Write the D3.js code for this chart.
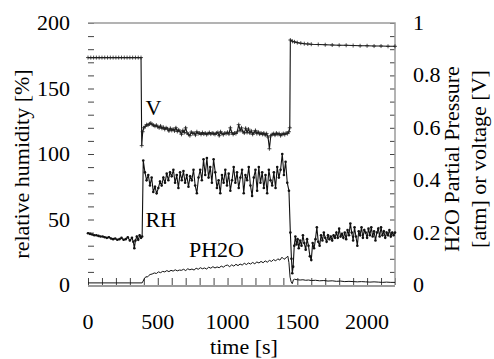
<!DOCTYPE html>
<html>
<head>
<meta charset="utf-8">
<script src="https://cdn.jsdelivr.net/npm/d3@7"></script>
<style>
    body { margin: 0; background: #fff; }
    svg text { font-family: "Liberation Serif", "Times New Roman", Times, serif; fill: #000; }
</style>
</head>
<body>
<div id="chart"></div>
<script>
// time axis ticks / labels
const xTickLabels = [0, 500, 1000, 1500, 2000];
const yLeftLabels = [0, 50, 100, 150, 200];
const yRightLabels = ["0", "0.2", "0.4", "0.6", "0.8", "1"];

// relative humidity [%]
const rhTime = [0, 15, 30, 45, 60, 75, 90, 105, 120, 135, 150, 165, 180, 195, 210, 225, 240, 255, 270, 285, 300, 315, 325, 332, 340, 350, 360, 370, 380, 388,
    396, 408, 420, 432, 444, 456, 468, 480, 492, 504, 516, 528, 540, 552, 564, 576, 588, 600, 612, 624, 636, 648, 660, 672, 684, 696, 708, 720, 732, 744, 756, 768, 780, 792, 804, 816, 828, 840, 852, 864, 876, 888, 900, 912, 924, 936, 948, 960, 972, 984, 996,
    1008, 1020, 1032, 1044, 1056, 1068, 1080, 1092, 1104, 1116, 1128, 1140, 1152, 1164, 1176, 1188, 1200, 1212, 1224, 1236, 1248, 1260, 1272, 1284, 1296, 1308, 1320, 1332, 1344, 1356, 1368, 1380, 1392, 1404, 1416, 1428, 1440,
    1450, 1458, 1464, 1470, 1478, 1486, 1494, 1502, 1510, 1520, 1530, 1540, 1550, 1560, 1570, 1580, 1590, 1600, 1610, 1620, 1630, 1640, 1650, 1660, 1670, 1680, 1690, 1700, 1710, 1720, 1730, 1740, 1750, 1760, 1770, 1780, 1790, 1800,
    1810, 1820, 1830, 1840, 1850, 1860, 1870, 1880, 1890, 1900, 1910, 1920, 1930, 1940, 1950, 1960, 1970, 1980, 1990, 2000, 2010, 2020, 2030, 2040, 2050, 2060, 2070, 2080, 2090, 2100, 2110, 2120, 2130, 2140, 2150, 2160, 2170, 2180, 2190, 2200];
const rhValues = [39.5, 39, 38.5, 38, 38, 37.5, 37, 37, 36.5, 36, 36.5, 35.5, 35, 35.5, 34.5, 35, 36, 34.5, 35, 36.5, 34, 36, 33, 28, 34, 37, 34.5, 38, 36, 37,
    95, 86, 80, 84, 76, 82, 71, 75, 70, 74, 79, 76, 82, 78, 85, 80, 86, 83, 88, 78, 84, 74, 86, 80, 87, 78, 84, 75, 83, 80, 88, 76, 70, 82, 88, 80, 96, 84, 97, 82, 90, 78, 96, 86, 74, 80, 70, 84, 78, 88, 76,
    85, 72, 80, 90, 78, 86, 74, 82, 88, 70, 84, 80, 90, 76, 68, 82, 88, 72, 90, 78, 86, 74, 84, 70, 88, 80, 76, 86, 74, 90, 82, 88, 100, 84, 94, 78, 72,
    40, 20, 9, 14, 30, 37, 31, 35, 28, 34, 30, 38, 32, 27, 35, 30, 22, 19, 32, 28, 35, 44, 33, 30, 38, 34, 40, 36, 33, 38, 35, 37, 34, 38, 36, 40, 36, 43,
    37, 39, 36, 40, 35, 42, 38, 47, 40, 34, 44, 37, 30, 41, 38, 44, 36, 42, 40, 36, 43, 38, 44, 37, 41, 34, 40, 43, 37, 44, 38, 41, 36, 40, 38, 42, 37, 40, 38, 40];

// sensor voltage [V]
const vTime = [0, 20, 40, 60, 80, 100, 120, 140, 160, 180, 200, 220, 240, 260, 280, 300, 320, 340, 360, 380,
    385, 392, 400, 410, 420, 430, 440, 450, 460, 470, 480, 490, 500, 510, 520, 530, 540, 550, 560, 570, 580, 590, 600, 610, 620, 630, 640, 650, 660, 670, 680, 690, 700,
    710, 720, 730, 740, 750, 760, 770, 780, 790, 800, 810, 820, 830, 840, 850, 860, 870, 880, 890, 900, 910, 920, 930, 940, 950, 960, 970, 980, 990, 1000,
    1010, 1020, 1030, 1040, 1050, 1060, 1070, 1080, 1090, 1100, 1110, 1120, 1130, 1140, 1150, 1160, 1170, 1180, 1190, 1200, 1210, 1220, 1230, 1240, 1250,
    1260, 1270, 1280, 1290, 1300, 1310, 1320, 1330, 1340, 1350, 1360, 1370, 1380, 1390, 1400, 1410, 1420, 1430, 1440, 1446,
    1450, 1465, 1480, 1500, 1525, 1550, 1575, 1600, 1650, 1700, 1750, 1800, 1850, 1900, 1950, 2000, 2050, 2100, 2150, 2200];
const vValues = [0.868, 0.868, 0.868, 0.868, 0.868, 0.868, 0.868, 0.868, 0.868, 0.868, 0.868, 0.868, 0.868, 0.868, 0.868, 0.868, 0.868, 0.868, 0.868, 0.868,
    0.532, 0.585, 0.6, 0.605, 0.612, 0.61, 0.615, 0.618, 0.612, 0.61, 0.606, 0.61, 0.604, 0.6, 0.607, 0.598, 0.602, 0.594, 0.6, 0.596, 0.588, 0.598, 0.59, 0.595, 0.588, 0.6, 0.586, 0.592, 0.585, 0.575, 0.59, 0.582, 0.6,
    0.58, 0.575, 0.57, 0.584, 0.578, 0.58, 0.572, 0.585, 0.578, 0.58, 0.575, 0.582, 0.576, 0.58, 0.574, 0.578, 0.582, 0.576, 0.58, 0.578, 0.575, 0.58, 0.582, 0.57, 0.585, 0.578, 0.574, 0.58, 0.578, 0.583,
    0.576, 0.6, 0.582, 0.575, 0.58, 0.578, 0.585, 0.612, 0.59, 0.6, 0.585, 0.58, 0.598, 0.582, 0.595, 0.58, 0.588, 0.575, 0.582, 0.59, 0.578, 0.584, 0.576, 0.58, 0.575,
    0.58, 0.572, 0.578, 0.565, 0.52, 0.57, 0.575, 0.578, 0.572, 0.58, 0.575, 0.578, 0.57, 0.575, 0.578, 0.574, 0.58, 0.578, 0.585, 0.6,
    0.935, 0.93, 0.928, 0.925, 0.923, 0.921, 0.92, 0.919, 0.918, 0.917, 0.916, 0.915, 0.915, 0.914, 0.913, 0.913, 0.912, 0.912, 0.911, 0.911];

// H2O partial pressure [atm]
const phTime = [0, 100, 200, 300, 388, 395, 405, 415, 425, 435, 445, 460, 475, 490, 505, 520, 535, 550, 565, 580, 595, 610, 625, 640, 655, 670, 685, 700, 715, 730, 745, 760, 775, 790, 805, 820, 835, 850, 865, 880, 895, 910, 925, 940, 955, 970, 985, 1000,
    1015, 1030, 1045, 1060, 1075, 1090, 1105, 1120, 1135, 1150, 1165, 1180, 1195, 1210, 1225, 1240, 1255, 1270, 1285, 1300, 1315, 1330, 1345, 1360, 1375, 1390, 1405, 1420, 1432, 1440, 1448, 1456, 1464, 1472,
    1480, 1500, 1520, 1540, 1560, 1580, 1600, 1630, 1660, 1690, 1720, 1750, 1780, 1810, 1840, 1870, 1900, 1930, 1960, 1990, 2020, 2050, 2080, 2110, 2140, 2170, 2200];
const phValues = [0.008, 0.008, 0.008, 0.008, 0.008, 0.015, 0.025, 0.032, 0.03, 0.036, 0.04, 0.042, 0.046, 0.044, 0.05, 0.047, 0.052, 0.05, 0.055, 0.051, 0.056, 0.053, 0.058, 0.054, 0.057, 0.056, 0.06, 0.055, 0.062, 0.058, 0.061, 0.057, 0.064, 0.06, 0.066, 0.062, 0.065, 0.061, 0.068, 0.064, 0.07, 0.065, 0.069, 0.066, 0.072, 0.068, 0.074, 0.076,
    0.07, 0.077, 0.072, 0.079, 0.074, 0.08, 0.076, 0.083, 0.078, 0.084, 0.08, 0.086, 0.081, 0.088, 0.084, 0.09, 0.085, 0.092, 0.087, 0.094, 0.09, 0.097, 0.092, 0.1, 0.095, 0.106, 0.098, 0.104, 0.11, 0.085, 0.03, 0.012, 0.005, 0.02,
    0.022, 0.02, 0.019, 0.02, 0.018, 0.019, 0.017, 0.018, 0.016, 0.017, 0.015, 0.016, 0.014, 0.015, 0.013, 0.014, 0.013, 0.012, 0.013, 0.012, 0.011, 0.012, 0.011, 0.01, 0.011, 0.01, 0.01];

// series annotations (right-axis units)
const seriesLabels = [
    { text: "V", t: 420, y: 0.649 },
    { text: "RH", t: 420, y: 0.221 },
    { text: "PH2O", t: 731, y: 0.107 }
];

class DualAxisChart {
    constructor(_parentElement) {
        this.parentElement = _parentElement;
        this.initVis();
    }

    initVis() {
        const vis = this;

        vis.MARGIN = { LEFT: 88, RIGHT: 99, TOP: 23, BOTTOM: 74 };
        vis.WIDTH = 494 - vis.MARGIN.LEFT - vis.MARGIN.RIGHT;
        vis.HEIGHT = 359 - vis.MARGIN.TOP - vis.MARGIN.BOTTOM;
        vis.FONT = "'Liberation Serif', 'Times New Roman', Times, serif";

        vis.svg = d3.select(vis.parentElement).append("svg")
            .attr("width", 494)
            .attr("height", 359)
            .style("font-family", vis.FONT);

        vis.g = vis.svg.append("g")
            .attr("transform", `translate(${vis.MARGIN.LEFT}, ${vis.MARGIN.TOP})`);

        // Scales
        vis.x = d3.scaleLinear().domain([0, 2200]).range([0, vis.WIDTH]);
        vis.yLeft = d3.scaleLinear().domain([0, 200]).range([vis.HEIGHT, 0]);
        vis.yRight = d3.scaleLinear().domain([0, 1]).range([vis.HEIGHT, 0]);

        vis.drawAxes();
        vis.drawSeries();
    }

    label(parent, txt) {
        // every text goes through here so the serif face is applied inline
        return parent.append("text")
            .style("font-family", this.FONT)
            .style("font-size", "22px")
            .text(txt);
    }

    drawAxes() {
        const vis = this;

        // inward minor ticks
        vis.g.append("g")
            .call(d3.axisRight(vis.yLeft).tickValues(d3.range(0, 201, 10)).tickSize(6).tickFormat(""))
            .call(g => g.select(".domain").remove())
            .selectAll("line").attr("stroke", "#444");

        vis.g.append("g")
            .attr("transform", `translate(${vis.WIDTH}, 0)`)
            .call(d3.axisLeft(vis.yRight).tickValues(d3.range(0, 1.001, 0.05)).tickSize(5).tickFormat(""))
            .call(g => g.select(".domain").remove())
            .selectAll("line").attr("stroke", "#444");

        vis.g.append("g")
            .attr("transform", `translate(0, ${vis.HEIGHT})`)
            .call(d3.axisTop(vis.x).tickValues(d3.range(0, 2201, 100)).tickSize(7).tickFormat(""))
            .call(g => g.select(".domain").remove())
            .selectAll("line").attr("stroke", "#444");

        // frame (top, right, bottom), gray
        vis.g.append("path")
            .attr("d", `M0,0H${vis.WIDTH}V${vis.HEIGHT}`)
            .attr("fill", "none")
            .attr("stroke", "#9a9a9a")
            .attr("stroke-width", 1.5);
        vis.g.append("line")
            .attr("x1", 0).attr("x2", vis.WIDTH)
            .attr("y1", vis.HEIGHT + 1).attr("y2", vis.HEIGHT + 1)
            .attr("stroke", "#9a9a9a")
            .attr("stroke-width", 2);

        // tick labels
        yLeftLabels.forEach(d => {
            vis.label(vis.g, d)
                .attr("x", -18)
                .attr("y", vis.yLeft(d) + 7)
                .attr("text-anchor", "end");
        });

        yRightLabels.forEach(d => {
            vis.label(vis.g, d)
                .attr("x", vis.WIDTH + 18)
                .attr("y", vis.yRight(+d) + 7);
        });

        xTickLabels.forEach(d => {
            vis.label(vis.g, d)
                .attr("x", vis.x(d))
                .attr("y", vis.HEIGHT + 44)
                .attr("text-anchor", "middle");
        });

        // axis titles
        vis.label(vis.svg, "time [s]")
            .attr("x", 244).attr("y", 354)
            .attr("text-anchor", "middle");

        vis.label(vis.svg, "relative humidity [%]")
            .attr("transform", "translate(29, 164) rotate(-90)")
            .attr("text-anchor", "middle");

        vis.label(vis.svg, "H2O Partial Pressure")
            .attr("transform", "translate(459, 159) rotate(-90)")
            .attr("text-anchor", "middle");

        vis.label(vis.svg, "[atm] or voltage [V]")
            .attr("transform", "translate(486, 159) rotate(-90)")
            .attr("text-anchor", "middle");
    }

    drawSeries() {
        const vis = this;

        const rh = rhTime.map((t, i) => ({ t, v: rhValues[i] }));
        const volt = vTime.map((t, i) => ({ t, v: vValues[i] }));
        const ph = phTime.map((t, i) => ({ t, v: phValues[i] }));

        const lineLeft = d3.line().x(d => vis.x(d.t)).y(d => vis.yLeft(d.v));
        const lineRight = d3.line().x(d => vis.x(d.t)).y(d => vis.yRight(d.v));

        // PH2O
        vis.g.append("path")
            .datum(ph)
            .attr("d", lineRight)
            .attr("fill", "none")
            .attr("stroke", "#111")
            .attr("stroke-width", 1);

        // RH with dot markers
        vis.g.append("path")
            .datum(rh)
            .attr("d", lineLeft)
            .attr("fill", "none")
            .attr("stroke", "#111")
            .attr("stroke-width", 1.1);
        vis.g.selectAll(".rhdot").data(rh).join("circle")
            .attr("class", "rhdot")
            .attr("cx", d => vis.x(d.t))
            .attr("cy", d => vis.yLeft(d.v))
            .attr("r", 1.3)
            .attr("fill", "#111");

        // V with cross markers
        vis.g.append("path")
            .datum(volt)
            .attr("d", lineRight)
            .attr("fill", "none")
            .attr("stroke", "#111")
            .attr("stroke-width", 1.1);
        vis.g.selectAll(".vmark").data(volt).join("path")
            .attr("class", "vmark")
            .attr("d", d => {
                const px = vis.x(d.t), py = vis.yRight(d.v);
                return `M${px - 2},${py}H${px + 2}M${px},${py - 2}V${py + 2}`;
            })
            .attr("stroke", "#222")
            .attr("stroke-width", 0.8);

        // series labels
        seriesLabels.forEach(d => {
            vis.label(vis.g, d.text)
                .attr("x", vis.x(d.t) - 1)
                .attr("y", vis.yRight(d.y));
        });
    }
}

new DualAxisChart("#chart");
</script>
</body>
</html>
